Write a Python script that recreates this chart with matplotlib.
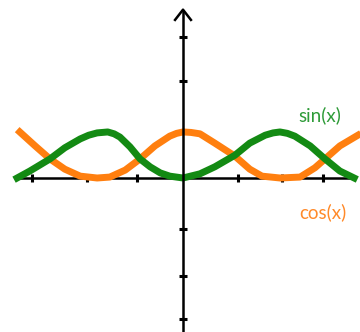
import matplotlib.pyplot as plt

# values (x in units, y in units)
sin_x = [-3.13, -2.89, -2.51, -2.23, -1.94, -1.78, -1.62, -1.42, -1.30, -1.19, -1.00, -0.81, -0.62, -0.43, -0.25, 0.0,
         0.32, 0.60, 0.98, 1.26, 1.55, 1.70, 1.83, 1.97, 2.11, 2.40, 2.68, 2.96, 3.23]
sin_y = [0.0, 0.15, 0.41, 0.65, 0.84, 0.92, 0.97, 0.99, 0.95, 0.88, 0.67, 0.41, 0.24, 0.11, 0.04, 0.0,
         0.09, 0.24, 0.49, 0.75, 0.92, 0.97, 0.99, 0.96, 0.90, 0.69, 0.41, 0.15, 0.0]
cos_x = [-3.08, -2.79, -2.51, -2.23, -1.94, -1.62, -1.38, -1.09, -0.81, -0.53, -0.25, -0.12, 0.0,
         0.15, 0.32, 0.60, 0.98, 1.26, 1.49, 1.83, 2.21, 2.49, 2.68, 2.96, 3.30]
cos_y = [0.99, 0.69, 0.41, 0.19, 0.04, 0.0, 0.02, 0.17, 0.41, 0.69, 0.90, 0.96, 0.99,
         0.98, 0.95, 0.75, 0.47, 0.19, 0.04, 0.0, 0.02, 0.22, 0.41, 0.69, 0.92]
x_ticks = [-2.85, -1.81, -0.87, 1.04, 1.87, 2.64]
y_ticks = [3.03, 2.09, -1.10, -2.11, -3.03]

fig = plt.figure(figsize=(3.6, 3.32), dpi=100)
ax = fig.add_axes([0, 0, 1, 1])
ax.set_xlim(-3.453, 3.340)
ax.set_ylim(-3.312, 3.828)
ax.axis('off')

# axes lines
ax.plot([-3.14, 3.25], [0, 0], color='black', lw=1.8, zorder=1)
ax.plot([0, 0], [-3.4, 3.6], color='black', lw=1.8, zorder=4)
ax.plot([-0.15, 0, 0.15], [3.40, 3.62, 3.40], color='black', lw=1.8, zorder=4)
ax.plot(x_ticks, [0] * len(x_ticks), ls='none', marker='|', ms=6, mew=2.2, color='black', zorder=1)
ax.plot([0] * len(y_ticks), y_ticks, ls='none', marker='_', ms=6, mew=2.2, color='black', zorder=4)

# curves
ax.plot(cos_x, cos_y, color='#ff7f0f', lw=5, solid_joinstyle='round', zorder=2)
ax.plot(sin_x, sin_y, color='#138a13', lw=5, solid_joinstyle='round', zorder=3)

ax.text(2.58, 1.35, 'sin(x)', color='#2e9b38', fontsize=13.5, family='Lato', ha='center', va='center')
ax.text(2.64, -0.73, 'cos(x)', color='#ff8a2a', fontsize=13.5, family='Lato', ha='center', va='center')

fig.savefig('out.png', dpi=100)
